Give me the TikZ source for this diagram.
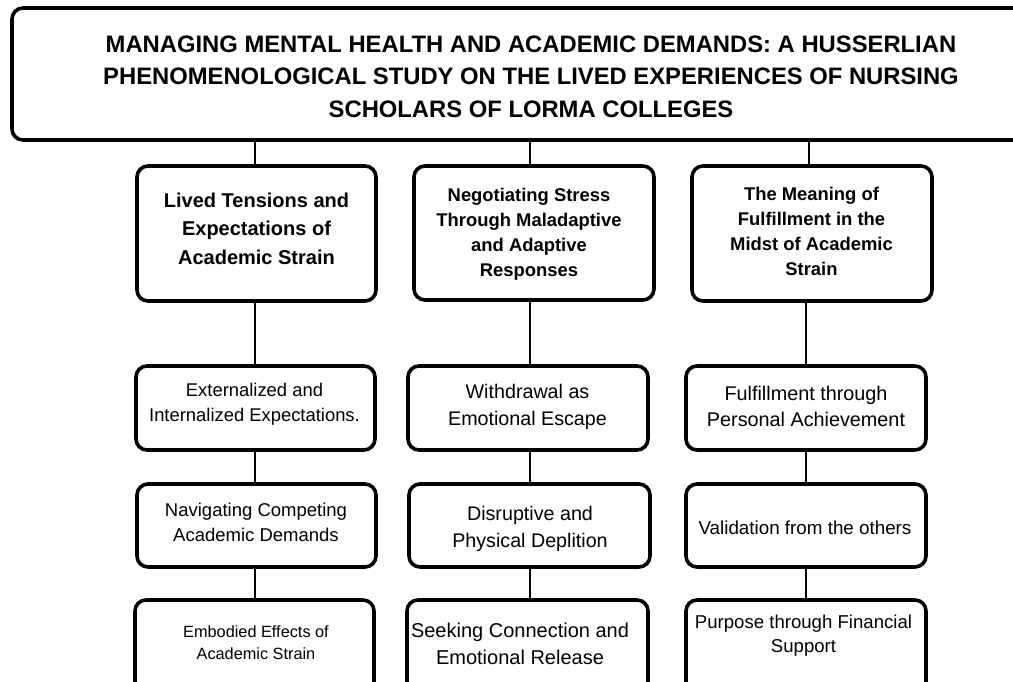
\documentclass[tikz,border=0pt]{standalone}
\usepackage{fontspec}
\setmainfont{Liberation Sans}
\begin{document}
\begin{tikzpicture}[x=1pt,y=-1pt,
  panel/.style={draw=black, line width=3.6pt, rounded corners=11pt, fill=white, inner sep=0pt},
  link/.style={draw=black, line width=1.8pt},
  txt/.style={align=center, inner sep=0pt, text=black},
  headtxt/.style={txt, font=\bfseries\fontsize{23.8}{32.5}\selectfont},
  themeA/.style={txt, font=\bfseries\fontsize{20}{28.5}\selectfont},
  themeB/.style={txt, font=\bfseries\fontsize{18.4}{25}\selectfont}
]
\useasboundingbox (0,0) rectangle (1013,681);
\clip (0,0) rectangle (1013,681);

% column positions of the connectors
\coordinate (ax) at (255,0);
\coordinate (bx) at (530,0);
\coordinate (cx) at (809,0);
\coordinate (cx2) at (806,0);

% title panel
\node[panel, minimum width=1038pt, minimum height=132pt] (title) at (531,74) {};
\node[headtxt] (titletext) at (531,76.5)
  {MANAGING MENTAL HEALTH AND ACADEMIC DEMANDS: A HUSSERLIAN\\
   PHENOMENOLOGICAL STUDY ON THE LIVED EXPERIENCES OF NURSING\\
   SCHOLARS OF LORMA COLLEGES};

% main themes
\node[panel, minimum width=239pt, minimum height=135pt] (a1) at (256.5,233.5) {};
\node[panel, minimum width=240pt, minimum height=134pt] (b1) at (534,233) {};
\node[panel, minimum width=240pt, minimum height=135pt] (c1) at (812,233.5) {};

% sub-themes, second row
\node[panel, minimum width=239pt, minimum height=84pt] (a2) at (255.5,408) {};
\node[panel, minimum width=240pt, minimum height=84pt] (b2) at (528,408) {};
\node[panel, minimum width=240pt, minimum height=84pt] (c2) at (806,408) {};

% sub-themes, third row
\node[panel, minimum width=239pt, minimum height=83pt] (a3) at (256.5,525.5) {};
\node[panel, minimum width=241pt, minimum height=83pt] (b3) at (529.5,525.5) {};
\node[panel, minimum width=240pt, minimum height=83pt] (c3) at (806,525.5) {};

% sub-themes, fourth row
\node[panel, minimum width=239pt, minimum height=100pt] (a4) at (254.5,650) {};
\node[panel, minimum width=241pt, minimum height=100pt] (b4) at (527.5,650) {};
\node[panel, minimum width=240pt, minimum height=100pt] (c4) at (806,650) {};

% connectors
\draw[link] (title.south -| ax) -- (a1.north -| ax);
\draw[link] (title.south -| bx) -- (b1.north -| bx);
\draw[link] (title.south -| cx) -- (c1.north -| cx);
\draw[link] (a1.south -| ax) -- (a2.north -| ax);
\draw[link] (b1.south -| bx) -- (b2.north -| bx);
\draw[link] (c1.south -| cx2) -- (c2.north -| cx2);
\draw[link] (a2.south -| ax) -- (a3.north -| ax);
\draw[link] (b2.south -| bx) -- (b3.north -| bx);
\draw[link] (c2.south -| cx2) -- (c3.north -| cx2);
\draw[link] (a3.south -| ax) -- (a4.north -| ax);
\draw[link] (b3.south -| bx) -- (b4.north -| bx);
\draw[link] (c3.south -| cx2) -- (c4.north -| cx2);

% labels
\node[themeA] (a1t) at (256.5,228.5) {Lived Tensions and\\Expectations of\\Academic Strain};
\node[themeB] (b1t) at (529,234.5) {Negotiating Stress\\Through Maladaptive\\and Adaptive\\Responses};
\node[themeB] (c1t) at (811.5,231.5) {The Meaning of\\Fulfillment in the\\Midst of Academic\\Strain};

\node[txt, font=\fontsize{18.4}{25}\selectfont] (a2t) at (254.5,404.5) {Externalized and\\Internalized Expectations.};
\node[txt, font=\fontsize{19.7}{26.5}\selectfont] (b2t) at (527.5,407) {Withdrawal as\\Emotional Escape};
\node[txt, font=\fontsize{19.8}{26}\selectfont] (c2t) at (806,406) {Fulfillment through\\Personal Achievement};

\node[txt, font=\fontsize{18.5}{25}\selectfont] (a3t) at (256,522.5) {Navigating Competing\\Academic Demands};
\node[txt, font=\fontsize{19.7}{27}\selectfont] (b3t) at (530,528.5) {Disruptive and\\Physical Deplition};
\node[txt, font=\fontsize{18.8}{25}\selectfont] (c3t) at (805,528) {Validation from the others};

\node[txt, font=\fontsize{16.3}{22}\selectfont] (a4t) at (256,643) {Embodied Effects of\\Academic Strain};
\node[txt, font=\fontsize{20}{27}\selectfont] (b4t) at (520,643.5) {Seeking Connection and\\Emotional Release};
\node[txt, font=\fontsize{18.6}{24}\selectfont] (c4t) at (803.5,636) {Purpose through Financial\\Support};
\end{tikzpicture}
\end{document}
